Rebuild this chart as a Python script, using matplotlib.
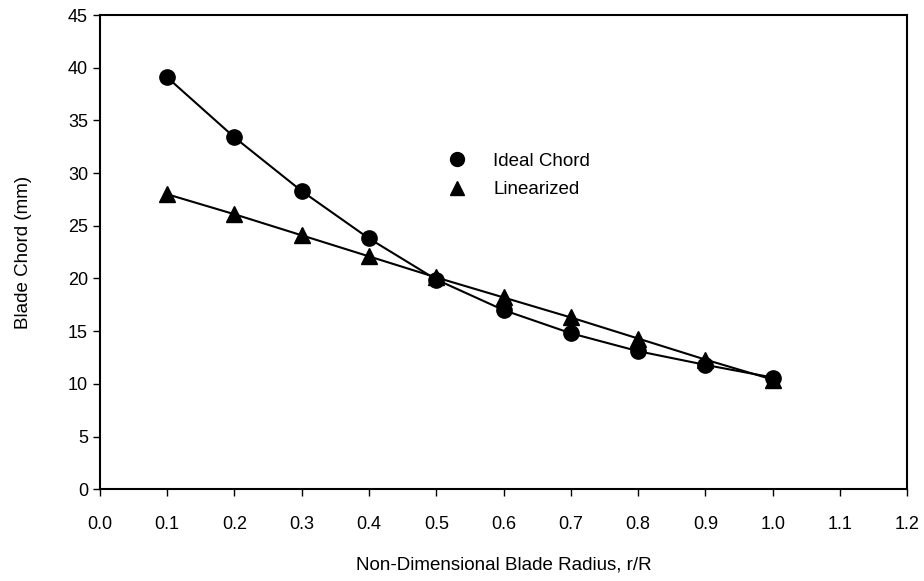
import matplotlib
matplotlib.use("Agg")
import matplotlib.pyplot as plt

plt.rcParams['font.family'] = ['Liberation Sans', 'DejaVu Sans']

# data
radius = [0.1, 0.2, 0.3, 0.4, 0.5, 0.6, 0.7, 0.8, 0.9, 1.0]
ideal_chord = [39.1, 33.4, 28.3, 23.8, 19.9, 17.0, 14.8, 13.1, 11.8, 10.6]
linearized = [28.0, 26.1, 24.1, 22.1, 20.1, 18.2, 16.3, 14.3, 12.3, 10.4]

x_ticks = [0.0, 0.1, 0.2, 0.3, 0.4, 0.5, 0.6, 0.7, 0.8, 0.9, 1.0, 1.1, 1.2]
y_ticks = [0, 5, 10, 15, 20, 25, 30, 35, 40, 45]

fig = plt.figure(figsize=(9.24, 5.81), dpi=100)
ax = fig.add_axes([0.108, 0.158, 0.874, 0.816])

ax.plot(radius, ideal_chord, color='black', linewidth=1.5, marker='o',
        markersize=11, label='Ideal Chord')
ax.plot(radius, linearized, color='black', linewidth=1.5, marker='^',
        markersize=11, label='Linearized')

ax.set_xlim(0, 1.2)
ax.set_ylim(0, 45)
ax.set_xticks(x_ticks)
ax.set_xticklabels(['%.1f' % t for t in x_ticks])
ax.set_yticks(y_ticks)
ax.tick_params(direction='out', length=5, width=1, labelsize=13, colors='black')
ax.tick_params(axis='x', pad=14)
for s in ax.spines.values():
    s.set_linewidth(1.5)

ax.set_xlabel('Non-Dimensional Blade Radius, r/R', fontsize=13.5, labelpad=17)
ax.set_ylabel('Blade Chord (mm)', fontsize=13.5, labelpad=26)

leg = ax.legend(loc='upper left', bbox_to_anchor=(0.408, 0.745), frameon=False,
                fontsize=13.5, handlelength=1.2, handletextpad=1.3,
                labelspacing=0.6)
for h in leg.legend_handles:
    h.set_linestyle('None')
    h.set_markersize(10)

fig.savefig('out.png', dpi=100)
